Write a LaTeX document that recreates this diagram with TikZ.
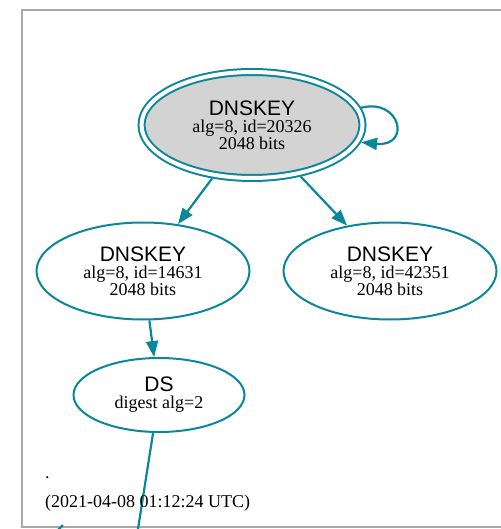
\documentclass[tikz,border=0pt]{standalone}
\usepackage{fontspec}
\setmainfont{Liberation Serif}
\setsansfont{Liberation Sans}
\usetikzlibrary{shapes.geometric,arrows.meta}
\definecolor{secure}{HTML}{0A879A}
\definecolor{keyfill}{HTML}{D3D3D3}
\definecolor{framegray}{HTML}{A8A8A8}
\tikzset{
  rrnode/.style={ellipse, draw=secure, line width=2pt, align=center,
    inner sep=0pt, font=\fontsize{18}{17}\selectfont},
  keynode/.style={rrnode, minimum width=213pt, minimum height=97pt},
  edge/.style={draw=secure, line width=2.2pt, -{Triangle[length=16pt,width=12pt]}},
  plainedge/.style={draw=secure, line width=2.2pt}
}
\newcommand{\rrtype}[1]{{\sffamily\fontsize{21}{17}\selectfont #1}}
\begin{document}
\begin{tikzpicture}[x=1pt, y=-1pt]
  \useasboundingbox (0,0) rectangle (500,529);
  % outer frame of the zone
  \draw[framegray, line width=2pt] (22,10) rectangle (530,527);
  % keys
  \node[rrnode, fill=keyfill, double, double distance=4pt, outer sep=4pt,
        minimum width=221pt, minimum height=106pt] (ksk) at (252,125)
        {\rrtype{DNSKEY}\\alg=8, id=20326\\2048 bits};
  \node[keynode] (zsk1) at (143,271) {\rrtype{DNSKEY}\\alg=8, id=14631\\2048 bits};
  \node[keynode] (zsk2) at (390,271) {\rrtype{DNSKEY}\\alg=8, id=42351\\2048 bits};
  \node[rrnode, minimum width=171pt, minimum height=74pt] (ds) at (159,395)
        {\rrtype{DS}\\digest alg=2};
  % edges
  \draw[edge] (ksk.9) .. controls +(40,-10) and +(50,5) .. (ksk.-9);
  \draw[edge] (ksk) -- (zsk1);
  \draw[edge] (ksk) -- (zsk2);
  \draw[edge] (zsk1) -- (ds);
  \coordinate (offpage) at (135.5,545);
  \draw[plainedge] (ds) -- (offpage);
  \coordinate (stubA) at (57,531);
  \coordinate (stubB) at (63,525);
  \draw[plainedge] (stubA) -- (stubB);
  % zone label
  \node[anchor=base west, inner sep=0pt, font=\fontsize{18}{17}\selectfont] (dot) at (45,478) {.};
  \node[anchor=base west, inner sep=0pt, font=\fontsize{18}{17}\selectfont] (stamp) at (45,507)
        {(2021-04-08 01:12:24 UTC)};
\end{tikzpicture}
\end{document}
